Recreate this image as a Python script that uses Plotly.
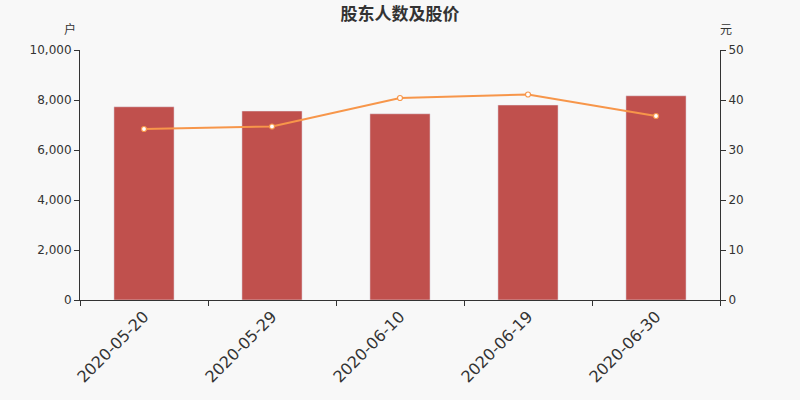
import plotly.graph_objects as go

dates = ["2020-05-20", "2020-05-29", "2020-06-10", "2020-06-19", "2020-06-30"]
holders = [7730, 7560, 7450, 7800, 8170]
price = [34.2, 34.7, 40.4, 41.1, 36.8]

fig = go.Figure()
fig.add_trace(go.Bar(x=dates, y=holders, marker_color="#c0504d", width=0.47, name="股东人数"))
fig.add_trace(go.Scatter(x=dates, y=price, yaxis="y2", mode="lines+markers",
                         line=dict(color="#f7964a", width=2),
                         marker=dict(size=5, color="white", line=dict(color="#f7964a", width=1.2)),
                         name="股价"))

font_family = "DejaVu Sans, Noto Sans CJK SC, sans-serif"
fig.update_layout(
    width=800, height=400,
    margin=dict(l=80, r=80, t=50, b=100),
    paper_bgcolor="#f8f8f8", plot_bgcolor="#f8f8f8",
    showlegend=False,
    font=dict(family=font_family, color="#333333", size=12),
    title=dict(text="<b>股东人数及股价</b>", x=0.5, xanchor="center", y=0.965, yanchor="middle",
               font=dict(size=17, color="#333333", family="Noto Sans CJK SC, sans-serif")),
    xaxis=dict(type="category", showgrid=False, showline=True, linecolor="#333333", linewidth=1,
               ticks="outside", tickson="boundaries", ticklen=5, tickcolor="#333333",
               tickangle=-45, tickfont=dict(size=16, color="#333333")),
    yaxis=dict(range=[0, 10000], dtick=2000, tickformat=",d", showgrid=False, showline=True,
               linecolor="#333333", ticks="outside", ticklen=5, tickcolor="#333333", zeroline=False,
               tickfont=dict(size=12, color="#333333")),
    yaxis2=dict(range=[0, 50], dtick=10, overlaying="y", side="right", showgrid=False, showline=True,
                linecolor="#333333", ticks="outside", ticklen=5, tickcolor="#333333", zeroline=False,
                tickfont=dict(size=12, color="#333333")),
    bargap=0.53,
)
fig.add_annotation(text="户", xref="paper", yref="paper", x=-0.003, y=1.0, yshift=22,
                   xanchor="right", yanchor="middle",
                   showarrow=False, font=dict(size=12, color="#333333", family="Noto Sans CJK SC"))
fig.add_annotation(text="元", xref="paper", yref="paper", x=0.997, y=1.0, yshift=22,
                   xanchor="left", yanchor="middle",
                   showarrow=False, font=dict(size=12, color="#333333", family="Noto Sans CJK SC"))
fig.write_html("out.html", post_script="document.body.style.margin='0';",
               config={"displayModeBar": False})
